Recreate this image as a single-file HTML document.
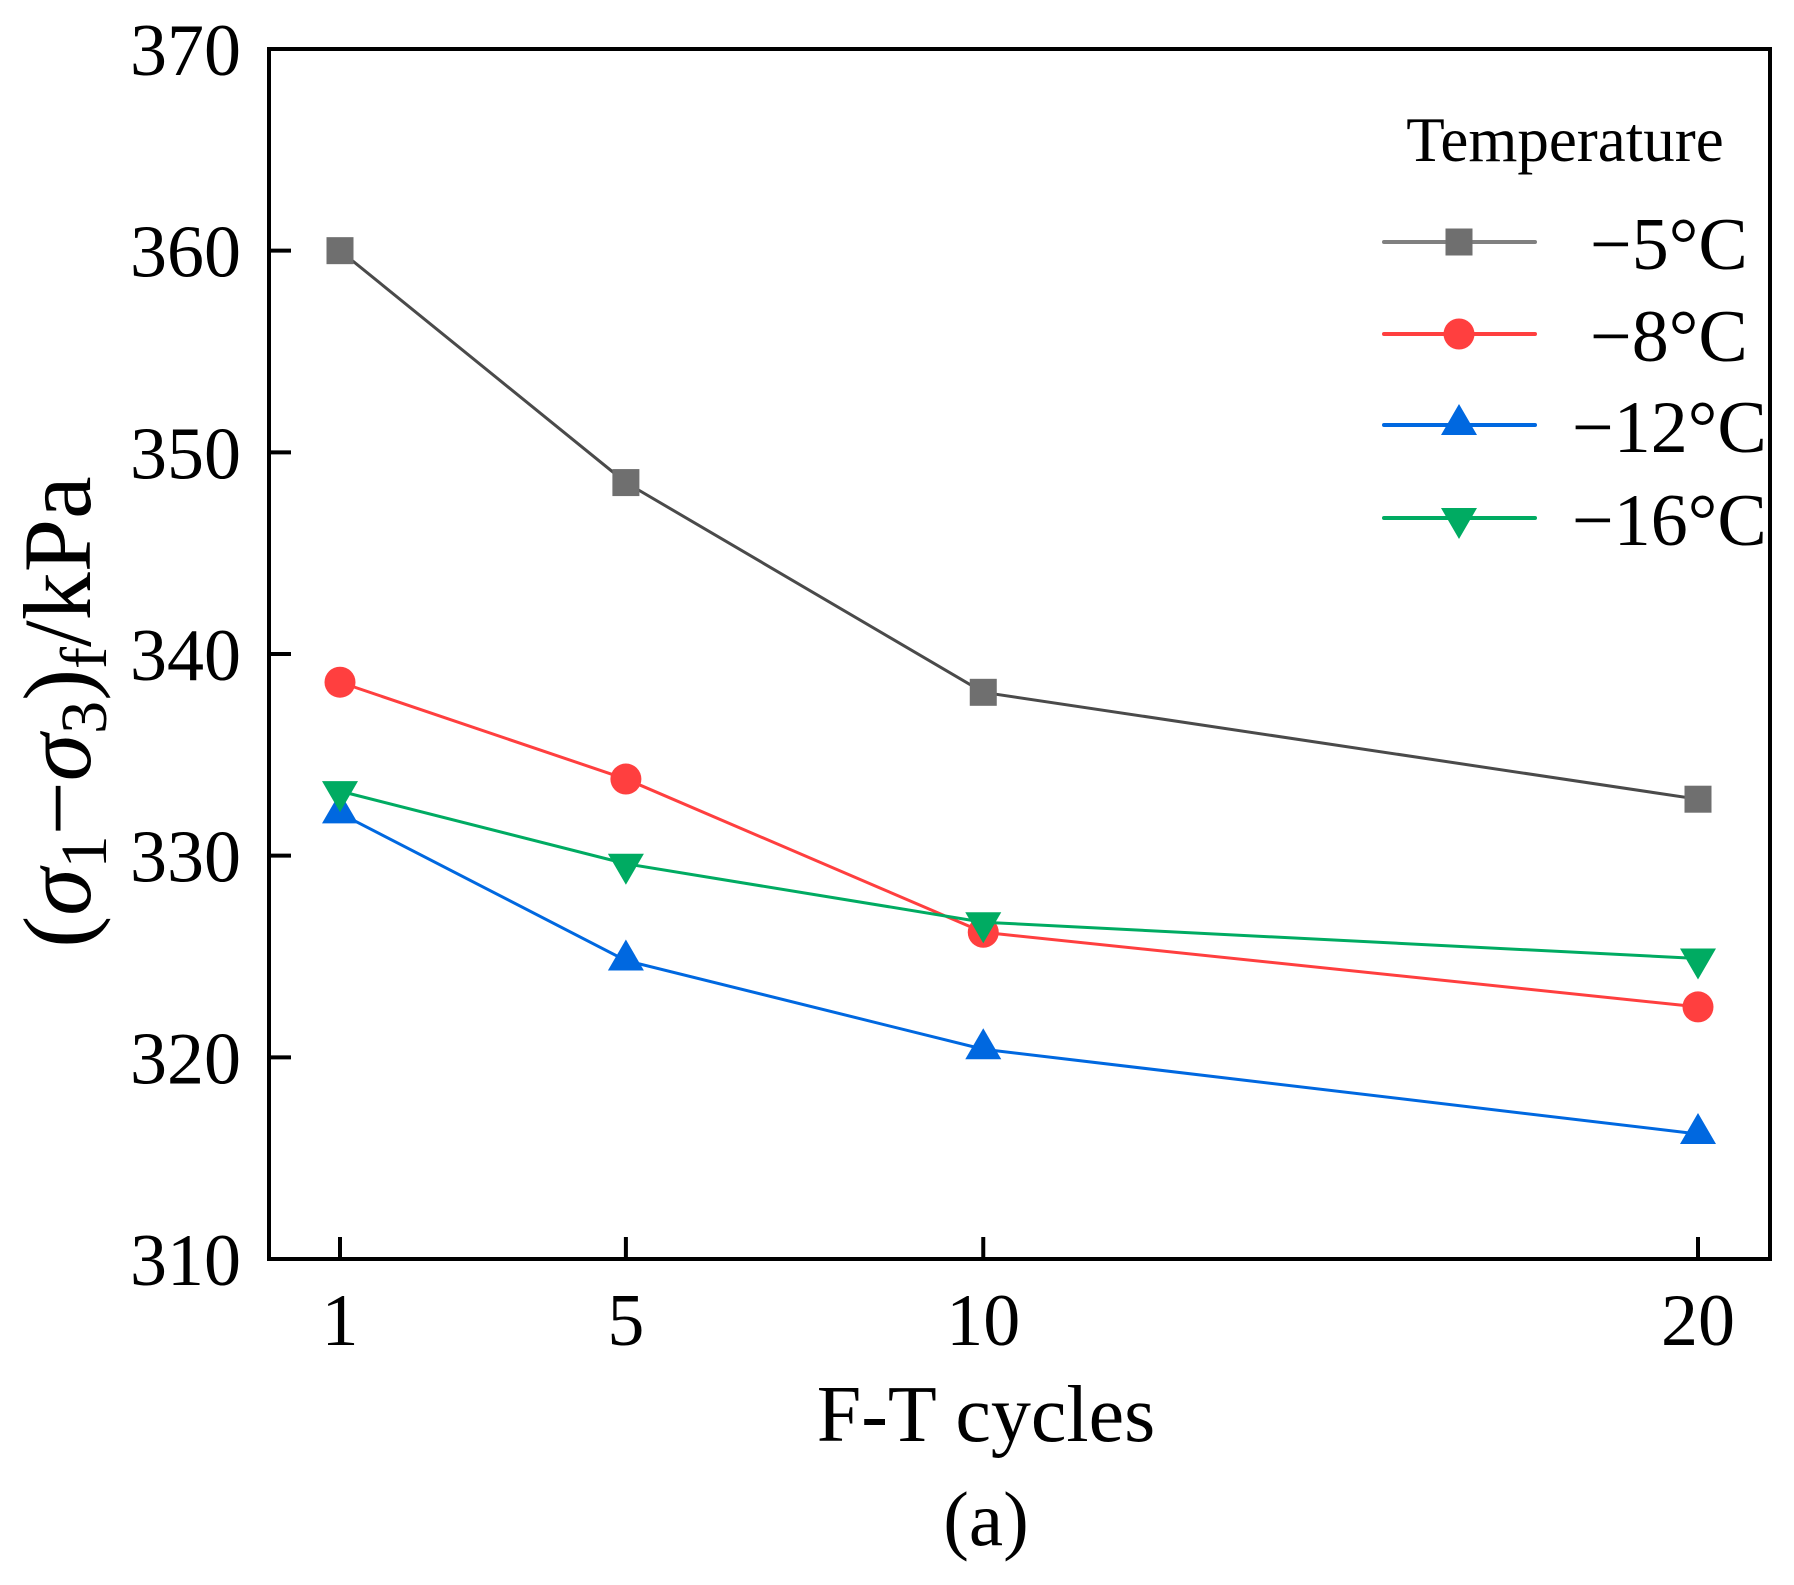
<!DOCTYPE html>
<html><head><meta charset="utf-8"><style>
html,body{margin:0;padding:0;background:#fff;}
svg{display:block;font-family:"Liberation Serif","Times New Roman",serif;}
</style></head><body>
<svg id="chart" width="1794" height="1585" viewBox="0 0 1794 1585" xmlns="http://www.w3.org/2000/svg">
<g id="plot"></g>
<g id="axes"></g>
<text x="986" y="1441" font-size="80" text-anchor="middle">F-T cycles</text>
<text x="986" y="1545" font-size="77" text-anchor="middle">(a)</text>
<text transform="translate(90,712) rotate(-90)" font-size="96" text-anchor="middle">(<tspan font-style="italic">σ</tspan><tspan font-size="66" dy="16">1</tspan><tspan dy="-16">−</tspan><tspan font-style="italic">σ</tspan><tspan font-size="66" dy="16">3</tspan><tspan dy="-16">)</tspan><tspan font-size="66" dy="16">f</tspan><tspan dy="-16">/kPa</tspan></text>
<g id="legend">
<text x="1565" y="161" font-size="63" text-anchor="middle">Temperature</text>
</g>
</svg>
<script>
const categories = [1, 5, 10, 20];
const seriesNames = ["−5°C", "−8°C", "−12°C", "−16°C"];
const s5 = [360, 348.5, 338.1, 332.8];
const s8 = [338.6, 333.8, 326.2, 322.5];
const s12 = [332.1, 324.8, 320.4, 316.2];
const s16 = [333.2, 329.6, 326.7, 324.9];
const yTicks = [310, 320, 330, 340, 350, 360, 370];

const L = 269, R = 1770, T = 49, B = 1259;
const xScale = v => 340 + (v - 1) * (1698 - 340) / 19;
const yScale = v => B - (v - 310) * (B - T) / 60;
const NS = "http://www.w3.org/2000/svg";
function mk(tag, attrs, parent) {
  const e = document.createElementNS(NS, tag);
  for (const k in attrs) e.setAttribute(k, attrs[k]);
  parent.appendChild(e);
  return e;
}
const plot = document.getElementById('plot');
const axes = document.getElementById('axes');
const legend = document.getElementById('legend');

const frame = mk('rect', {x: L, y: T, width: R - L, height: B - T, fill: 'none', stroke: '#000', 'stroke-width': 4}, axes);



yTicks.forEach(v => {
  const y = yScale(v);
  if (v > 310 && v < 370) {
    const t = mk('line', {x1: L, x2: L + 22, y1: y, y2: y, stroke: '#000', 'stroke-width': 4}, axes);
    
    
  }
  const lb = mk('text', {x: 241, y: y + 26, 'font-size': 74, 'text-anchor': 'end'}, axes);
  lb.textContent = v;
  
  
});
categories.forEach(c => {
  const x = xScale(c);
  const t = mk('line', {x1: x, x2: x, y1: B, y2: B - 22, stroke: '#000', 'stroke-width': 4}, axes);
  
  
  const lb = mk('text', {x: x, y: 1345, 'font-size': 74, 'text-anchor': 'middle'}, axes);
  lb.textContent = c;
  
  
});

function marker(type, x, y, color, parent) {
  let e;
  if (type === 'square') e = mk('rect', {x: x - 13.5, y: y - 13.5, width: 27, height: 27, fill: color}, parent);
  else if (type === 'circle') e = mk('circle', {cx: x, cy: y, r: 15.5, fill: color}, parent);
  else if (type === 'up') e = mk('polygon', {points: `${x-18},${y+10} ${x+18},${y+10} ${x},${y-21}`, fill: color}, parent);
  else e = mk('polygon', {points: `${x-18},${y-10} ${x+18},${y-10} ${x},${y+21}`, fill: color}, parent);
  return e;
}

const series = [
  {vals: s5, color: '#6f6f6f', line: '#4a4a4a', m: 'square', key: 'minus5'},
  {vals: s8, color: '#ff3f3f', line: '#ff3f3f', m: 'circle', key: 'minus8'},
  {vals: s12, color: '#0068e0', line: '#0068e0', m: 'up', key: 'minus12'},
  {vals: s16, color: '#00ab62', line: '#00ab62', m: 'down', key: 'minus16'}
];
const legY = [242, 334, 425, 518];
series.forEach((s, i) => {
  const g = mk('g', {}, plot);
  
  
  const pts = s.vals.map((v, j) => xScale(categories[j]) + ',' + yScale(v)).join(' ');
  const pl = mk('polyline', {points: pts, fill: 'none', stroke: s.line, 'stroke-width': 3}, g);
  
  
  s.vals.forEach((v, j) => {
    const mm = marker(s.m, xScale(categories[j]), yScale(v), s.color, g);
    
    
  });
  const y = legY[i];
  const lg = mk('g', {}, legend);
  
  
  mk('line', {x1: 1384, x2: 1535, y1: y, y2: y, stroke: s.color === '#6f6f6f' ? '#808080' : s.color, 'stroke-width': 4, 'stroke-linecap': 'round'}, lg);
  marker(s.m, 1459, y, s.color, lg);
  const tx = mk('text', {x: seriesNames[i].length > 4 ? 1572 : 1590, y: y + 27, 'font-size': 74}, lg);
  tx.textContent = seriesNames[i];
});
</script>
</body></html>
